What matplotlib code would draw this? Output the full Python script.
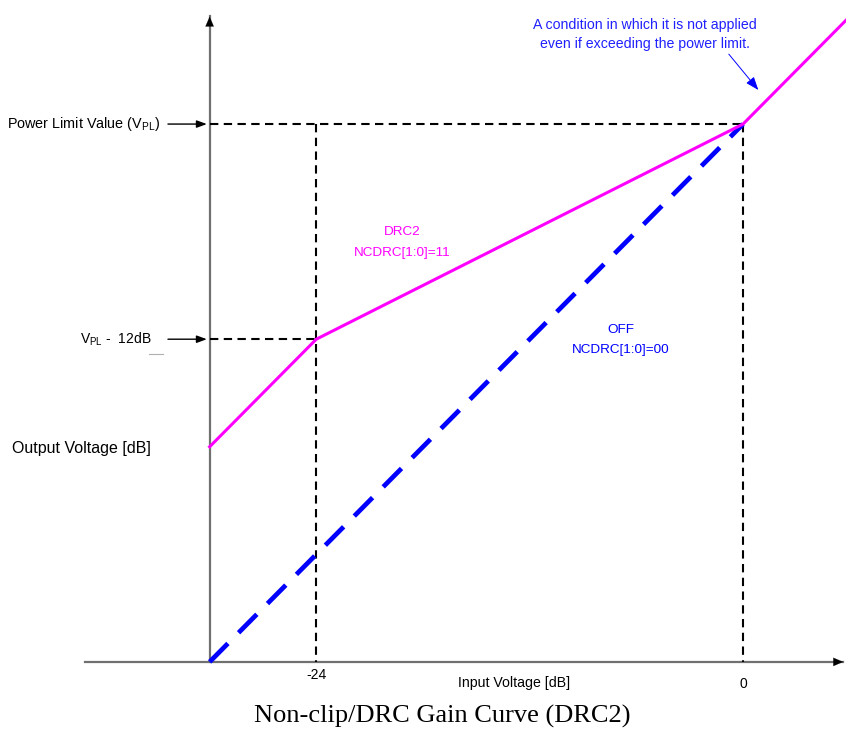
import numpy as np
import matplotlib
matplotlib.use('Agg')
from matplotlib import pyplot as plt

plt.rcParams['font.family'] = ['Liberation Sans', 'DejaVu Sans']
plt.rcParams['mathtext.fontset'] = 'custom'
plt.rcParams['mathtext.rm'] = 'Liberation Sans'
plt.rcParams['mathtext.it'] = 'Liberation Sans'

# data (dB)
vpl = 0
knee_in = -24
x_ticks = [-24, 0]
x_tick_labels = ['-24', '0']
off_in = [-30, 0]
off_out = [-30, 0]
drc2_in = [-30, -24, 0, 6.5]
drc2_out = [-18, -12, 0, 6.5]

axis_min = -30
pink = '#ff00ff'
blue = '#0000ff'

fig = plt.figure(figsize=(8.46, 7.32), dpi=100)
ax = fig.add_axes([0, 0, 1, 1])
ax.set_xlim(-41.79, 5.79)
ax.set_ylim(-33.91, 6.92)
ax.axis('off')

# axes with arrows
ax.plot([-37.0, 5.6], [axis_min, axis_min], color='#707070', lw=1.6, zorder=2)
ax.plot([axis_min, axis_min], [axis_min, 6.0], color='#707070', lw=1.6, zorder=2)
ax.annotate('', xy=(5.79, axis_min), xytext=(5.0, axis_min),
            arrowprops=dict(arrowstyle='-|>,head_length=0.7,head_width=0.3', color='black', lw=0.1))
ax.annotate('', xy=(axis_min, 6.15), xytext=(axis_min, 5.3),
            arrowprops=dict(arrowstyle='-|>,head_length=0.7,head_width=0.3', color='black', lw=0.1))

# guide dashed lines
ax.plot([axis_min, 0], [vpl, vpl], color='black', lw=1.5, ls=(0, (4, 2.6)), zorder=3)
ax.plot([axis_min, knee_in], [vpl - 12, vpl - 12], color='black', lw=1.5, ls=(0, (4, 2.6)), zorder=3)
ax.plot([knee_in, knee_in], [vpl, axis_min], color='black', lw=1.5, ls=(0, (4, 2.6)), zorder=3)
ax.plot([0, 0], [vpl, axis_min], color='black', lw=1.5, ls=(0, (4, 2.6)), zorder=3)

# curves
ax.plot(off_in, off_out, color=blue, lw=3.4, ls=(0, (5.5, 3.2)), zorder=4)
ax.plot(drc2_in, drc2_out, color=pink, lw=2.2, zorder=5, clip_on=True)

# left labels with arrows
ax.text(-32.8, vpl, 'Power Limit Value (V$_{\\rm PL}$)', ha='right', va='center', fontsize=10.4)
ax.annotate('', xy=(axis_min, vpl), xytext=(-32.5, vpl),
            arrowprops=dict(arrowstyle='-|>,head_length=0.6,head_width=0.22', color='black', lw=1))
ax.text(-33.25, vpl - 12, 'V$_{\\rm PL}$ -  12dB', ha='right', va='center', fontsize=10)
ax.annotate('', xy=(axis_min, vpl - 12), xytext=(-32.5, vpl - 12),
            arrowprops=dict(arrowstyle='-|>,head_length=0.6,head_width=0.22', color='black', lw=1))
ax.plot([-33.4, -32.65], [-12.83, -12.83], color='#b0b0b0', lw=0.8)
ax.text(-41.1, -18.1, 'Output Voltage [dB]', ha='left', va='center', fontsize=11.5)

# x labels
for xt, lab in zip(x_ticks, x_tick_labels):
    off = -30.73 if xt == knee_in else -31.23
    ax.text(xt, off, lab, ha='center', va='center', fontsize=10)
ax.text(-12.9, -31.2, 'Input Voltage [dB]', ha='center', va='center', fontsize=10.2)

# curve labels
ax.text(-19.18, -6.02, 'DRC2', ha='center', va='center', fontsize=9.7, color=pink)
ax.text(-19.18, -7.19, 'NCDRC[1:0]=11', ha='center', va='center', fontsize=9.7, color=pink)
ax.text(-6.86, -11.49, 'OFF', ha='center', va='center', fontsize=9.7, color=blue)
ax.text(-6.86, -12.6, 'NCDRC[1:0]=00', ha='center', va='center', fontsize=9.7, color=blue)

ax.text(-5.51, 5.52, 'A condition in which it is not applied', ha='center', va='center',
        fontsize=10.2, color='#2020ff')
ax.text(-5.51, 4.46, 'even if exceeding the power limit.', ha='center', va='center',
        fontsize=10.2, color='#2020ff')
ax.annotate('', xy=(0.96, 1.78), xytext=(-0.9, 4.02),
            arrowprops=dict(arrowstyle='-|>,head_length=0.8,head_width=0.3', color=blue, lw=0.7))

ax.text(-16.9, -33.07, 'Non-clip/DRC Gain Curve (DRC2)', ha='center', va='center',
        fontsize=19, family='Liberation Serif')

fig.savefig('out.png', dpi=100)
